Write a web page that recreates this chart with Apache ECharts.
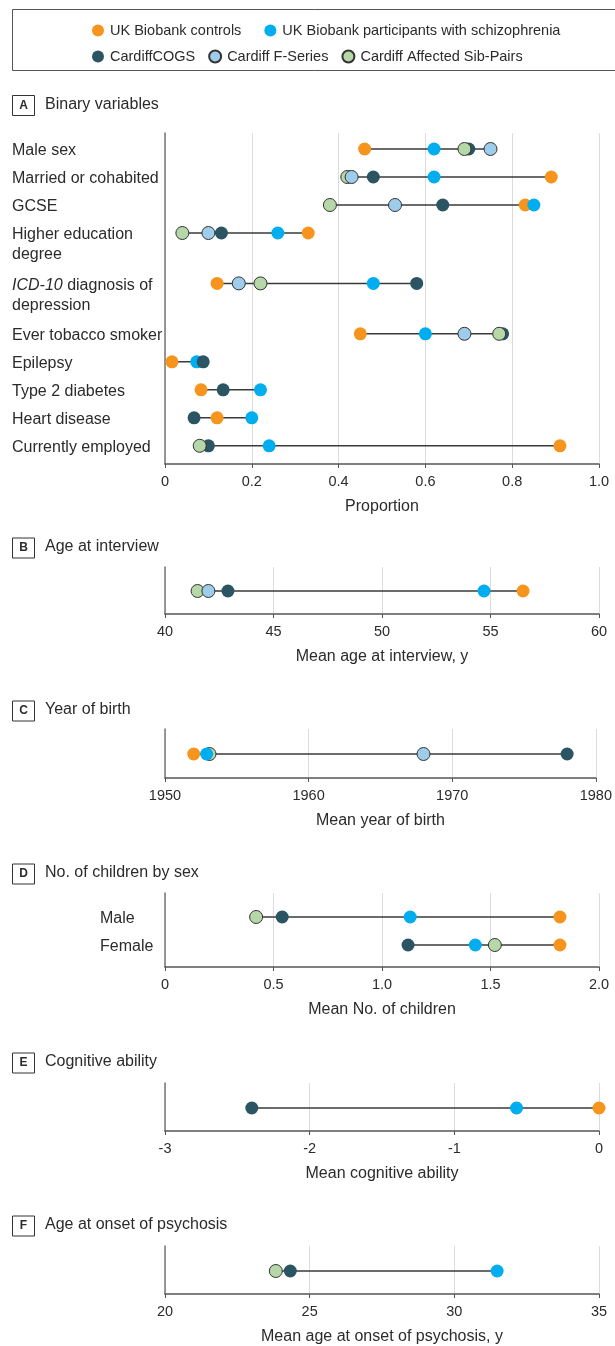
<!DOCTYPE html>
<html>
<head>
<meta charset="utf-8">
<script src="https://cdn.jsdelivr.net/npm/echarts@6/dist/echarts.min.js"></script>
<style>
  html, body { margin: 0; padding: 0; background: #fff; }
  #chart { width: 615px; height: 1346px; }
</style>
</head>
<body>
<div id="chart"></div>
<script>
// ---------- Groups ----------
const groupNames = ['UK Biobank controls', 'UK Biobank participants with schizophrenia', 'CardiffCOGS', 'Cardiff F-Series', 'Cardiff Affected Sib-Pairs'];
const groupColors = ['#F7941D', '#00AEEF', '#2B5563', '#9ECDEB', '#B6D7A8'];
const groupBordered = [false, false, false, true, true];

// ---------- Panel A: Binary variables ----------
const binaryLabels = ['Male sex', 'Married or cohabited', 'GCSE', 'Higher education\ndegree', 'ICD-10 diagnosis of\ndepression', 'Ever tobacco smoker', 'Epilepsy', 'Type 2 diabetes', 'Heart disease', 'Currently employed'];
const binaryControls = [0.46, 0.89, 0.83, 0.33, 0.12, 0.45, 0.016, 0.083, 0.12, 0.91];
const binaryScz      = [0.62, 0.62, 0.85, 0.26, 0.48, 0.60, 0.073, 0.22, 0.20, 0.24];
const binaryCOGS     = [0.70, 0.48, 0.64, 0.13, 0.58, 0.778, 0.088, 0.134, 0.067, 0.10];
const binaryFSeries  = [0.75, 0.43, 0.53, 0.10, 0.17, 0.69, null, null, null, null];
const binarySibPairs = [0.69, 0.42, 0.38, 0.04, 0.22, 0.77, null, null, null, 0.08];
const binaryTicks = [0, 0.2, 0.4, 0.6, 0.8, 1.0];

// ---------- Panel B: Age at interview ----------
const ageControls = [56.5];
const ageScz      = [54.7];
const ageCOGS     = [42.9];
const ageFSeries  = [42.0];
const ageSibPairs = [41.5];
const ageTicks = [40, 45, 50, 55, 60];

// ---------- Panel C: Year of birth ----------
const birthControls = [1952.0];
const birthScz      = [1952.9];
const birthCOGS     = [1978.0];
const birthFSeries  = [1968.0];
const birthSibPairs = [1953.1];
const birthTicks = [1950, 1960, 1970, 1980];

// ---------- Panel D: No. of children by sex ----------
const childLabels = ['Male', 'Female'];
const childControls = [1.82, 1.82];
const childScz      = [1.13, 1.43];
const childCOGS     = [0.54, 1.12];
const childFSeries  = [null, null];
const childSibPairs = [0.42, 1.52];
const childTicks = [0, 0.5, 1.0, 1.5, 2.0];

// ---------- Panel E: Cognitive ability ----------
const cogControls = [0];
const cogScz      = [-0.57];
const cogCOGS     = [-2.4];
const cogTicks = [-3, -2, -1, 0];

// ---------- Panel F: Age at onset of psychosis ----------
const onsetScz      = [31.48];
const onsetCOGS     = [24.33];
const onsetSibPairs = [23.83];
const onsetTicks = [20, 25, 30, 35];

// ---------- Layout ----------
const FONT = "'Liberation Sans', Arial, sans-serif";
const TXT = '#2b2b2b';
const ROW_PX = 28;
const PLOT_LEFT = 165, PLOT_WIDTH = 434;

const decFmt = v => (v === 0 ? '0' : v.toFixed(1));

const panels = [
  { letter: 'A', title: 'Binary variables', headerY: 105.5, top: 133, height: 331, padTop: 16,
    ticks: binaryTicks, fmt: decFmt, xName: 'Proportion', labels: binaryLabels, labelMargin: 153,
    values: [binaryControls, binaryScz, binaryCOGS, binaryFSeries, binarySibPairs], order: [0, 1, 2, 4, 3] },
  { letter: 'B', title: 'Age at interview', headerY: 548, top: 567, height: 47, padTop: 24,
    ticks: ageTicks, fmt: null, xName: 'Mean age at interview, y', labels: null,
    values: [ageControls, ageScz, ageCOGS, ageFSeries, ageSibPairs], order: [0, 1, 2, 4, 3] },
  { letter: 'C', title: 'Year of birth', headerY: 711, top: 729, height: 49, padTop: 25,
    ticks: birthTicks, fmt: null, xName: 'Mean year of birth', labels: null,
    values: [birthControls, birthScz, birthCOGS, birthFSeries, birthSibPairs], order: [0, 2, 3, 4, 1] },
  { letter: 'D', title: 'No. of children by sex', headerY: 874, top: 893, height: 74, padTop: 24,
    ticks: childTicks, fmt: decFmt, xName: 'Mean No. of children', labels: childLabels, labelMargin: 65,
    values: [childControls, childScz, childCOGS, childFSeries, childSibPairs], order: [0, 1, 2, 4, 3] },
  { letter: 'E', title: 'Cognitive ability', headerY: 1063, top: 1083, height: 48, padTop: 25,
    ticks: cogTicks, fmt: null, xName: 'Mean cognitive ability', labels: null,
    values: [cogControls, cogScz, cogCOGS, null, null], order: [0, 1, 2, 4, 3] },
  { letter: 'F', title: 'Age at onset of psychosis', headerY: 1226, top: 1246, height: 48, padTop: 25,
    ticks: onsetTicks, fmt: null, xName: 'Mean age at onset of psychosis, y', labels: null,
    values: [null, onsetScz, onsetCOGS, null, onsetSibPairs], order: [0, 1, 2, 4, 3] }
];

const grids = [], xAxes = [], yAxes = [], series = [], graphics = [];

// legend frame
graphics.push({ type: 'rect', shape: { x: 12.5, y: 9.5, width: 640, height: 61 },
  style: { fill: 'none', stroke: '#555', lineWidth: 1 }, silent: true });

panels.forEach((p, idx) => {
  const nRows = p.labels ? p.labels.length : 1;
  // row positions derived from number of label lines
  const rowPos = [0];
  for (let i = 1; i < nRows; i++) {
    const prevLines = p.labels ? p.labels[i - 1].split('\n').length : 1;
    rowPos.push(rowPos[i - 1] + 1 + 0.8 * (prevLines - 1));
  }
  const yMin = -p.padTop / ROW_PX;
  const yMax = yMin + p.height / ROW_PX;
  const step = p.ticks[1] - p.ticks[0];

  grids.push({ left: PLOT_LEFT, width: PLOT_WIDTH, top: p.top, height: p.height, containLabel: false });

  xAxes.push({
    type: 'value', gridIndex: idx,
    min: p.ticks[0], max: p.ticks[p.ticks.length - 1], interval: step,
    name: p.xName, nameLocation: 'middle', nameGap: 35,
    nameTextStyle: { fontFamily: FONT, fontSize: 16, color: TXT },
    axisLine: { show: true, onZero: false, lineStyle: { color: '#555', width: 1.5 } },
    axisTick: { show: true, length: 4, lineStyle: { color: '#555', width: 1 } },
    axisLabel: { margin: 10, fontFamily: FONT, fontSize: 14.5, color: TXT,
      formatter: p.fmt ? p.fmt : (v => String(v)) },
    splitLine: { show: true, lineStyle: { color: '#dcdcdc', width: 1 } }
  });

  const yAxis = {
    type: 'value', gridIndex: idx, inverse: true, min: yMin, max: yMax,
    axisLine: { show: true, onZero: false, lineStyle: { color: '#777', width: 1.5 } },
    axisTick: { show: false }, splitLine: { show: false },
    axisLabel: { show: false }
  };
  if (p.labels) {
    yAxis.axisLabel = {
      show: true, customValues: rowPos, align: 'left', margin: p.labelMargin,
      fontFamily: FONT, fontSize: 16, color: TXT, lineHeight: 20, padding: [4, 0, 0, 0],
      formatter: v => {
        let k = 0, best = Infinity;
        rowPos.forEach((r, i) => { if (Math.abs(r - v) < best) { best = Math.abs(r - v); k = i; } });
        let s = p.labels[k].replace('ICD-10', '{i|ICD-10}');
        // keep first line of multi-line labels level with the dots
        if (s.indexOf('\n') >= 0) s = '\n' + s;
        return s;
      },
      rich: { i: { fontStyle: 'italic', fontFamily: FONT, fontSize: 16, color: TXT, lineHeight: 20 } }
    };
  }
  yAxes.push(yAxis);

  // range lines (min to max per row)
  const rangeData = [];
  for (let i = 0; i < nRows; i++) {
    const vals = p.values.filter(a => a).map(a => a[i]).filter(v => v !== null && v !== undefined);
    if (vals.length) rangeData.push([Math.min(...vals), Math.max(...vals), rowPos[i]]);
  }
  series.push({
    type: 'custom', xAxisIndex: idx, yAxisIndex: idx, z: 1, silent: true,
    data: rangeData, encode: { x: [0, 1], y: 2 },
    renderItem: (params, api) => {
      const a = api.coord([api.value(0), api.value(2)]);
      const b = api.coord([api.value(1), api.value(2)]);
      return { type: 'line', shape: { x1: a[0], y1: a[1], x2: b[0], y2: b[1] },
        style: { stroke: '#3a3a3a', lineWidth: 1.5 } };
    }
  });

  p.order.forEach((g, zi) => {
    const arr = p.values[g];
    const data = arr ? arr.map((v, i) => (v === null ? null : [v, rowPos[i]])).filter(d => d) : [];
    series.push({
      type: 'scatter', name: groupNames[g], xAxisIndex: idx, yAxisIndex: idx,
      z: 2 + zi, symbol: 'circle', symbolSize: 13, data: data,
      itemStyle: { color: groupColors[g], opacity: 1,
        borderColor: groupBordered[g] ? '#333' : groupColors[g], borderWidth: groupBordered[g] ? 1 : 0 },
      emphasis: { disabled: true }
    });
  });

  // panel header
  graphics.push({ type: 'rect', shape: { x: 12.5, y: p.headerY - 10, width: 22, height: 20 },
    style: { fill: '#fff', stroke: '#333', lineWidth: 1 }, silent: true });
  graphics.push({ type: 'text', x: 23.5, y: p.headerY, silent: true,
    style: { text: p.letter, align: 'center', verticalAlign: 'middle', fill: TXT,
      font: 'bold 12px ' + FONT } });
  graphics.push({ type: 'text', x: 45, y: p.headerY - 1, silent: true,
    style: { text: p.title, align: 'left', verticalAlign: 'middle', fill: TXT,
      font: '16px ' + FONT } });
});

const chart = echarts.init(document.getElementById('chart'), null, { renderer: 'canvas' });
chart.setOption({
  animation: false,
  backgroundColor: '#fff',
  textStyle: { fontFamily: FONT },
  legend: [
    { data: groupNames.slice(0, 2), left: 87, top: 18, orient: 'horizontal',
      itemWidth: 14, itemHeight: 12, itemGap: 23, icon: 'circle', selectedMode: false,
      textStyle: { fontFamily: FONT, fontSize: 14.5, color: TXT } },
    { data: groupNames.slice(2), left: 87, top: 44, orient: 'horizontal',
      itemWidth: 14, itemHeight: 12, itemGap: 13, icon: 'circle', selectedMode: false,
      textStyle: { fontFamily: FONT, fontSize: 14.5, color: TXT } }
  ],
  grid: grids,
  xAxis: xAxes,
  yAxis: yAxes,
  series: series,
  graphic: graphics
});
</script>
</body>
</html>
